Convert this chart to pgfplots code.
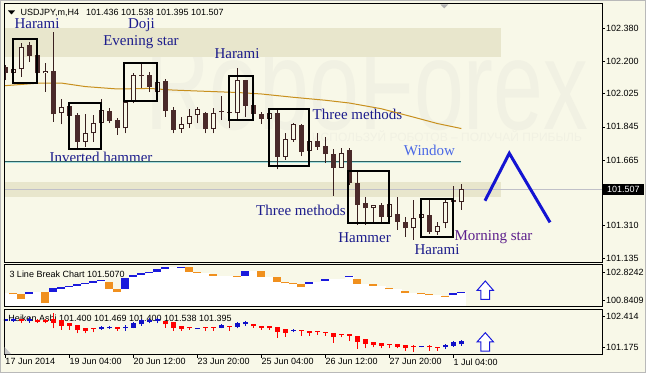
\documentclass[border=0pt]{standalone}
\usepackage{fontspec}
\setmainfont{Liberation Serif}
\newfontfamily\sans{Liberation Sans}
\usepackage{graphicx}
\usepackage{pgfplots}
\pgfplotsset{compat=1.18}
\usepackage{pgfplotstable}
\definecolor{bg}{HTML}{F8F8E8}
\definecolor{band}{HTML}{E8E6CC}
\definecolor{wm}{HTML}{F1F1E3}
\definecolor{cdark}{HTML}{4A2A2A}
\definecolor{cline}{HTML}{3A2020}
\definecolor{ma}{HTML}{C8901E}
\definecolor{win}{HTML}{2E6262}
\definecolor{winl}{HTML}{A8E0E0}
\definecolor{lbl}{HTML}{1C1C8C}
\definecolor{winlbl}{HTML}{4A68E6}
\definecolor{mstar}{HTML}{5C1E8C}
\definecolor{zig}{HTML}{1414D2}
\definecolor{lbblue}{HTML}{1A1ADC}
\definecolor{lborange}{HTML}{F0901E}
\definecolor{hared}{HTML}{FF0000}
\definecolor{hablue}{HTML}{1010C8}
\definecolor{pline}{HTML}{C0C0C8}

% main candles, white (bull)
\pgfplotstableread{
k O H L C
1 102.136 102.164 102.131 102.158
2 102.157 102.299 102.115 102.279
5 102.135 102.192 102.035 102.147
7 101.918 101.994 101.859 101.954
10 101.765 101.913 101.738 101.813
11 101.810 101.909 101.765 101.864
12 101.864 101.994 101.860 101.936
15 101.837 101.985 101.810 101.981
16 101.987 102.138 101.972 102.126
19 102.032 102.089 102.027 102.086
22 101.832 101.897 101.813 101.859
23 101.859 101.940 101.837 101.905
24 101.909 101.951 101.864 101.940
26 101.832 101.949 101.810 101.918
29 101.918 102.162 101.886 102.099
33 101.887 101.931 101.882 101.922
35 101.683 101.810 101.666 101.778
36 101.774 101.867 101.765 101.859
38 101.714 101.785 101.703 101.770
42 101.624 101.729 101.621 101.702
46 101.404 101.422 101.332 101.422
48 101.359 101.426 101.332 101.426
51 101.296 101.449 101.233 101.350
52 101.350 101.449 101.277 101.372
54 101.277 101.332 101.260 101.310
55 101.323 101.449 101.296 101.440
57 101.436 101.538 101.395 101.507
}\bull
% main candles, dark (bear)
\pgfplotstableread{
k O H L C
0 102.169 102.180 102.099 102.136
3 102.288 102.306 102.198 102.230
4 102.234 102.239 102.131 102.135
6 102.149 102.357 101.873 101.913
8 101.958 101.963 101.898 101.905
9 101.909 101.918 101.732 101.765
13 101.931 101.945 101.864 101.878
14 101.882 101.893 101.801 101.837
17 102.126 102.189 102.054 102.124
18 102.126 102.143 102.035 102.062
20 102.093 102.102 101.900 101.932
21 101.936 101.951 101.810 101.828
25 101.918 101.927 101.810 101.832
27 101.929 102.012 101.882 101.925
28 101.925 101.954 101.837 101.920
30 102.099 102.101 101.900 101.958
31 101.962 101.963 101.912 101.915
32 101.915 101.925 101.860 101.889
34 101.918 101.936 101.615 101.683
37 101.855 101.860 101.687 101.710
39 101.770 101.810 101.720 101.738
40 101.743 101.792 101.651 101.696
41 101.696 101.723 101.471 101.624
43 101.720 101.730 101.530 101.539
44 101.539 101.602 101.314 101.422
45 101.431 101.467 101.314 101.404
47 101.422 101.434 101.332 101.359
49 101.373 101.467 101.287 101.332
50 101.332 101.359 101.250 101.296
53 101.368 101.449 101.265 101.277
56 101.449 101.525 101.431 101.436
}\bear
% 3 line break
\pgfplotstableread{
k lo hi
3 101.249 101.436
6 101.436 101.679
7 101.629 101.793
8 101.751 101.844
9 101.844 101.987
10 101.965 102.080
11 102.080 102.223
12 102.201 102.273
15 101.629 102.395
16 102.466 102.631
17 102.631 102.753
18 102.753 102.867
19 102.867 103.039
20 103.060 103.182
22 103.182 103.225
30 102.581 102.939
38 101.987 102.151
40 102.223 102.345
43 102.466 102.559
56 101.178 101.364
57 101.364 101.436
}\lbup
\pgfplotstableread{
k lo hi
1 101.249 101.364
2 100.892 101.249
5 100.605 101.436
13 101.629 102.151
14 101.436 101.629
23 102.867 103.182
24 102.796 102.867
26 102.581 102.703
29 102.509 102.581
32 102.509 102.939
34 102.151 102.509
35 102.037 102.151
36 101.965 102.080
37 101.751 101.965
44 101.987 102.345
46 101.844 101.987
48 101.607 101.722
50 101.321 101.486
52 101.249 101.321
53 101.178 101.249
55 101.078 101.149
}\lbdown
\pgfplotstableread{
k W
0 101.364
1 101.249
2 100.892
3 101.436
4 101.436
5 100.605
6 101.679
7 101.793
8 101.844
9 101.987
10 102.080
11 102.223
12 102.273
13 101.629
14 101.436
15 102.395
16 102.631
17 102.753
18 102.867
19 103.039
20 103.182
21 103.182
22 103.225
23 102.867
24 102.796
25 102.796
26 102.581
27 102.581
28 102.581
29 102.509
30 102.939
31 102.939
32 102.509
33 102.509
34 102.151
35 102.037
36 101.965
37 101.751
38 102.151
39 102.151
40 102.345
41 102.345
42 102.345
43 102.559
44 101.987
45 101.987
46 101.844
47 101.844
48 101.607
49 101.607
50 101.321
51 101.321
52 101.249
53 101.178
54 101.178
55 101.078
56 101.364
57 101.436
}\lbwhite
% Heiken Ashi
\pgfplotstableread{
k O H L C
0 102.240 102.341 102.220 102.309
1 102.240 102.361 102.200 102.301
3 102.240 102.382 102.179 102.321
12 101.916 102.050 101.876 101.997
13 101.944 102.050 101.916 101.997
15 101.944 102.078 101.847 101.997
16 101.969 102.212 101.944 102.171
17 102.106 102.309 102.050 102.281
18 102.200 102.349 102.147 102.281
19 102.240 102.349 102.147 102.309
24 101.944 101.969 101.916 101.969
27 101.969 102.106 101.944 102.078
29 102.009 102.212 101.944 102.171
30 102.106 102.240 102.050 102.200
36 101.835 101.916 101.783 101.876
52 101.200 101.228 101.175 101.228
55 101.175 101.309 101.106 101.268
56 101.240 101.442 101.200 101.402
57 101.297 101.471 101.240 101.430
}\haup
\pgfplotstableread{
k O H L C
2 102.301 102.321 102.159 102.220
4 102.281 102.301 102.159 102.200
5 102.281 102.301 102.139 102.187
6 102.301 102.576 101.944 102.179
7 102.281 102.281 101.876 102.050
8 102.171 102.171 101.876 102.050
9 102.078 102.078 101.742 101.876
10 101.969 101.969 101.742 101.847
11 101.944 101.944 101.783 101.916
14 101.997 101.997 101.847 101.916
20 102.240 102.240 101.969 102.106
21 102.212 102.212 101.847 101.969
22 102.050 102.050 101.847 101.916
23 101.997 101.997 101.876 101.944
25 101.997 101.997 101.847 101.969
26 101.997 101.997 101.847 101.969
28 102.050 102.050 101.847 102.025
31 102.106 102.106 101.969 102.025
32 102.050 102.050 101.876 101.969
33 102.025 102.025 101.876 101.944
34 101.997 101.997 101.564 101.807
35 101.916 101.916 101.604 101.766
37 101.876 101.876 101.645 101.847
38 101.847 101.847 101.645 101.766
39 101.835 101.835 101.673 101.795
40 101.807 101.807 101.633 101.766
41 101.766 101.766 101.362 101.604
42 101.714 101.714 101.580 101.685
43 101.702 101.702 101.430 101.633
44 101.633 101.633 101.106 101.402
45 101.499 101.499 101.135 101.309
46 101.378 101.378 101.175 101.268
47 101.337 101.337 101.135 101.240
48 101.309 101.309 101.135 101.268
49 101.297 101.297 101.135 101.200
50 101.268 101.268 101.038 101.135
51 101.240 101.268 100.997 101.200
53 101.228 101.268 101.038 101.175
54 101.200 101.200 101.038 101.159
}\hadown

\pgfplotsset{
  panel/.style={scale only axis, width=598pt, anchor=south west,
    xmin=-0.1625, xmax=74.5875, axis on top,
    axis line style={black, line width=0.8pt},
    tick style={black, line width=0.6pt},
    tick align=outside, major tick length=3pt,
    ytick pos=right, yticklabel pos=right,
    xtick=\empty,
    yticklabel style={font=\sans\fontsize{9}{9}\selectfont, anchor=west, inner sep=1pt},
    /pgf/number format/assume math mode=true},
  bars/.style 2 args={draw=none, mark=none, forget plot,
    error bars/.cd, y dir=plus, y explicit, error mark=none,
    error mark options={draw=none, fill=none, opacity=0},
    error bar style={draw=#1, line width=#2}},
}

\begin{document}
\begin{tikzpicture}
\useasboundingbox (0,0) rectangle (646pt,373pt);
\begin{scope}[x=1pt,y=-1pt,shift={(0pt,373pt)}]
  \fill[bg] (0,0) rectangle (646,373);
  \draw[gray!55] (0.5,0.5) rectangle (645.5,372.5);
  \node[anchor=base west, inner sep=0, text=wm] at (145,130)
    {\scalebox{0.70}[1]{\sans\fontsize{128}{128}\selectfont RoboForex}};
  \fill[band] (4,28) rectangle (501,56.7);
  \fill[band] (4,182) rectangle (501,196.7);
  \node[text=wm, inner sep=0] at (447,136)
    {\sans\fontsize{12}{12}\selectfont ИСПОЛЬЗУЙ РОБОТОВ – ПОЛУЧАЙ ПРИБЫЛЬ};
  % pattern labels
  \begin{scope}[every node/.style={anchor=base, inner sep=0, text=lbl, font=\fontsize{15}{15}\selectfont}]
    \node at (37,29) {Harami};
    \node at (141.5,29) {Doji};
    \node at (141,46) {Evening star};
    \node at (237,59) {Harami};
    \node at (357.5,119.3) {Three methods};
    \node at (101,162.5) {Inverted hammer};
    \node[text=winlbl] at (429.5,156) {Window};
    \node at (301,215.7) {Three methods};
    \node at (364.5,242.7) {Hammer};
    \node at (437,254) {Harami};
    \node[text=mstar] at (493.5,240) {Morning star};
  \end{scope}
  % header
  \fill[black] (8,10.5) -- (15,10.5) -- (11.5,14.5) -- cycle;
  \node[anchor=base west, inner sep=0] at (20.5,16)
    {\sans\fontsize{9}{9}\selectfont USDJPY,m,H4\hspace{7pt}101.436 101.538 101.395 101.507};
  \fill[gray!60] (440.5,4.5) -- (448,4.5) -- (444.25,8.5) -- cycle;
  \node[anchor=base west, inner sep=0] at (8.3,321)
    {\sans\fontsize{9}{9}\selectfont Heiken Ashi 101.400 101.469 101.400 101.538 101.395};
\end{scope}

% ---------- main price panel ----------
\begin{axis}[panel, at={(4pt,111pt)}, height=258.5pt,
  ymin=101.1134, ymax=102.5127,
  ytick={101.135,101.310,101.665,101.845,102.025,102.200,102.380},
  yticklabel style={/pgf/number format/.cd, fixed, fixed zerofill, precision=3}]
  \addplot[pline, line width=0.8pt, forget plot] coordinates {(-1,101.507) (75,101.507)};
  \addplot[winl, line width=1pt, forget plot] coordinates {(-1,101.6546) (57,101.6546)};
  \addplot[win, line width=1pt, forget plot] coordinates {(-1,101.660) (57,101.660)};
  \addplot[ma, line width=1pt, forget plot] coordinates {(-0.2,102.068) (0,102.068) (4,102.081) (7,102.082) (10,102.063) (14,102.050) (18,102.053) (21,102.044) (24,102.039) (29,102.031) (32,102.023) (36,102.005) (40,101.989) (43,101.974) (47,101.943) (51,101.898) (54,101.863) (57,101.836)};
  % wicks
  \addplot[bars={cline}{1pt}] table[x=k, y=L, y error plus expr={\thisrow{H}-\thisrow{L}}] {\bull};
  \addplot[bars={cline}{1pt}] table[x=k, y=L, y error plus expr={\thisrow{H}-\thisrow{L}}] {\bear};
  % bodies
  \addplot[bars={cdark}{5.4pt}] table[x=k, y=C, y error plus expr={\thisrow{O}-\thisrow{C}}] {\bear};
  \addplot[bars={cline}{5.4pt}] table[x=k, y=O, y error plus expr={\thisrow{C}-\thisrow{O}}] {\bull};
  \addplot[bars={bg}{3.4pt}] table[x=k, y expr={\thisrow{O}+0.0054}, y error plus expr={\thisrow{C}-\thisrow{O}-0.0108}] {\bull};
  % pattern boxes
  \addplot[black, line width=2pt, forget plot] coordinates {(0.925,102.3205) (3.96,102.3205) (3.96,102.0807) (0.925,102.0807)} --cycle;
  \addplot[black, line width=2pt, forget plot] coordinates {(7.92,101.9757) (11.96,101.9757) (11.96,101.7267) (7.92,101.7267)} --cycle;
  \addplot[black, line width=2pt, forget plot] coordinates {(14.875,102.1922) (18.975,102.1922) (18.975,101.986) (14.875,101.986)} --cycle;
  \addplot[black, line width=2pt, forget plot] coordinates {(28,102.1186) (31,102.1186) (31,101.882) (28,101.882)} --cycle;
  \addplot[black, line width=2pt, forget plot] coordinates {(32.96,101.943) (37.95,101.943) (37.95,101.633) (32.96,101.633)} --cycle;
  \addplot[black, line width=2pt, forget plot] coordinates {(42.875,101.6076) (47.99,101.6076) (47.99,101.3245) (42.875,101.3245)} --cycle;
  \addplot[black, line width=2pt, forget plot] coordinates {(51.96,101.4544) (56,101.4544) (56,101.2487) (51.96,101.2487)} --cycle;
  % forecast zigzag
  \addplot[zig, line width=3pt, forget plot] coordinates {(59.96,101.445) (63.0,101.702) (68.09,101.328)};
\end{axis}

% ---------- 3 line break panel ----------
\begin{axis}[panel, at={(4pt,67pt)}, height=41.5pt,
  ymin=100.4119, ymax=103.3825,
  ytick={100.8409,102.8242},
  yticklabel style={/pgf/number format/.cd, fixed, fixed zerofill, precision=4}]
  \addplot[bars={white}{8.4pt}] table[x=k, y expr=100.3, y error plus expr={\thisrow{W}-100.3}] {\lbwhite};
  \addplot[bars={lbblue}{8.05pt}] table[x=k, y=lo, y error plus expr={\thisrow{hi}-\thisrow{lo}}] {\lbup};
  \addplot[bars={lborange}{8.05pt}] table[x=k, y=lo, y error plus expr={\thisrow{hi}-\thisrow{lo}}] {\lbdown};
  \addplot[draw=lbblue, fill=white, line width=1pt, forget plot] coordinates {(60.0,102.201) (61.03,101.522) (60.53,101.522) (60.53,100.892) (59.46,100.892) (59.46,101.522) (58.96,101.522)} --cycle;
\end{axis}

% ---------- Heiken Ashi panel ----------
\begin{axis}[panel, at={(4pt,18.5pt)}, height=45.5pt,
  ymin=100.8837, ymax=102.7258,
  ytick={101.175,102.414},
  yticklabel style={/pgf/number format/.cd, fixed, fixed zerofill, precision=3},
  xtick={0,8,16,24,32,40,48,56}, xtick pos=left,
  xticklabels={17 Jun 2014,19 Jun 04:00,20 Jun 12:00,23 Jun 20:00,25 Jun 04:00,26 Jun 12:00,27 Jun 20:00,1 Jul 04:00},
  xticklabel style={font=\sans\fontsize{9}{9}\selectfont, anchor=north west, inner sep=0pt, yshift=-1pt}]
  \addplot[bars={hablue}{1pt}] table[x=k, y=L, y error plus expr={\thisrow{H}-\thisrow{L}}] {\haup};
  \addplot[bars={hared}{1pt}] table[x=k, y=L, y error plus expr={\thisrow{H}-\thisrow{L}}] {\hadown};
  \addplot[bars={hablue}{4.6pt}] table[x=k, y=O, y error plus expr={\thisrow{C}-\thisrow{O}}] {\haup};
  \addplot[bars={hared}{4.6pt}] table[x=k, y=C, y error plus expr={\thisrow{O}-\thisrow{C}}] {\hadown};
  \addplot[draw=lbblue, fill=white, line width=1pt, forget plot] coordinates {(60.0,101.766) (61.03,101.390) (60.53,101.390) (60.53,101.025) (59.46,101.025) (59.46,101.390) (58.96,101.390)} --cycle;
\end{axis}

\begin{scope}[x=1pt,y=-1pt,shift={(0pt,373pt)}]
  \node[anchor=base west, inner sep=0] at (9.3,277.3)
    {\sans\fontsize{9}{9}\selectfont 3 Line Break Chart 101.5070};
  \fill[black] (603,184.3) rectangle (644,194.5);
  \node[anchor=base west, inner sep=0, text=white] at (607,192.6)
    {\sans\fontsize{9}{9}\selectfont 101.507};
  \fill[gray!45] (4.5,347) -- (4.5,354) -- (11,354) -- cycle;
\end{scope}
\end{tikzpicture}
\end{document}
